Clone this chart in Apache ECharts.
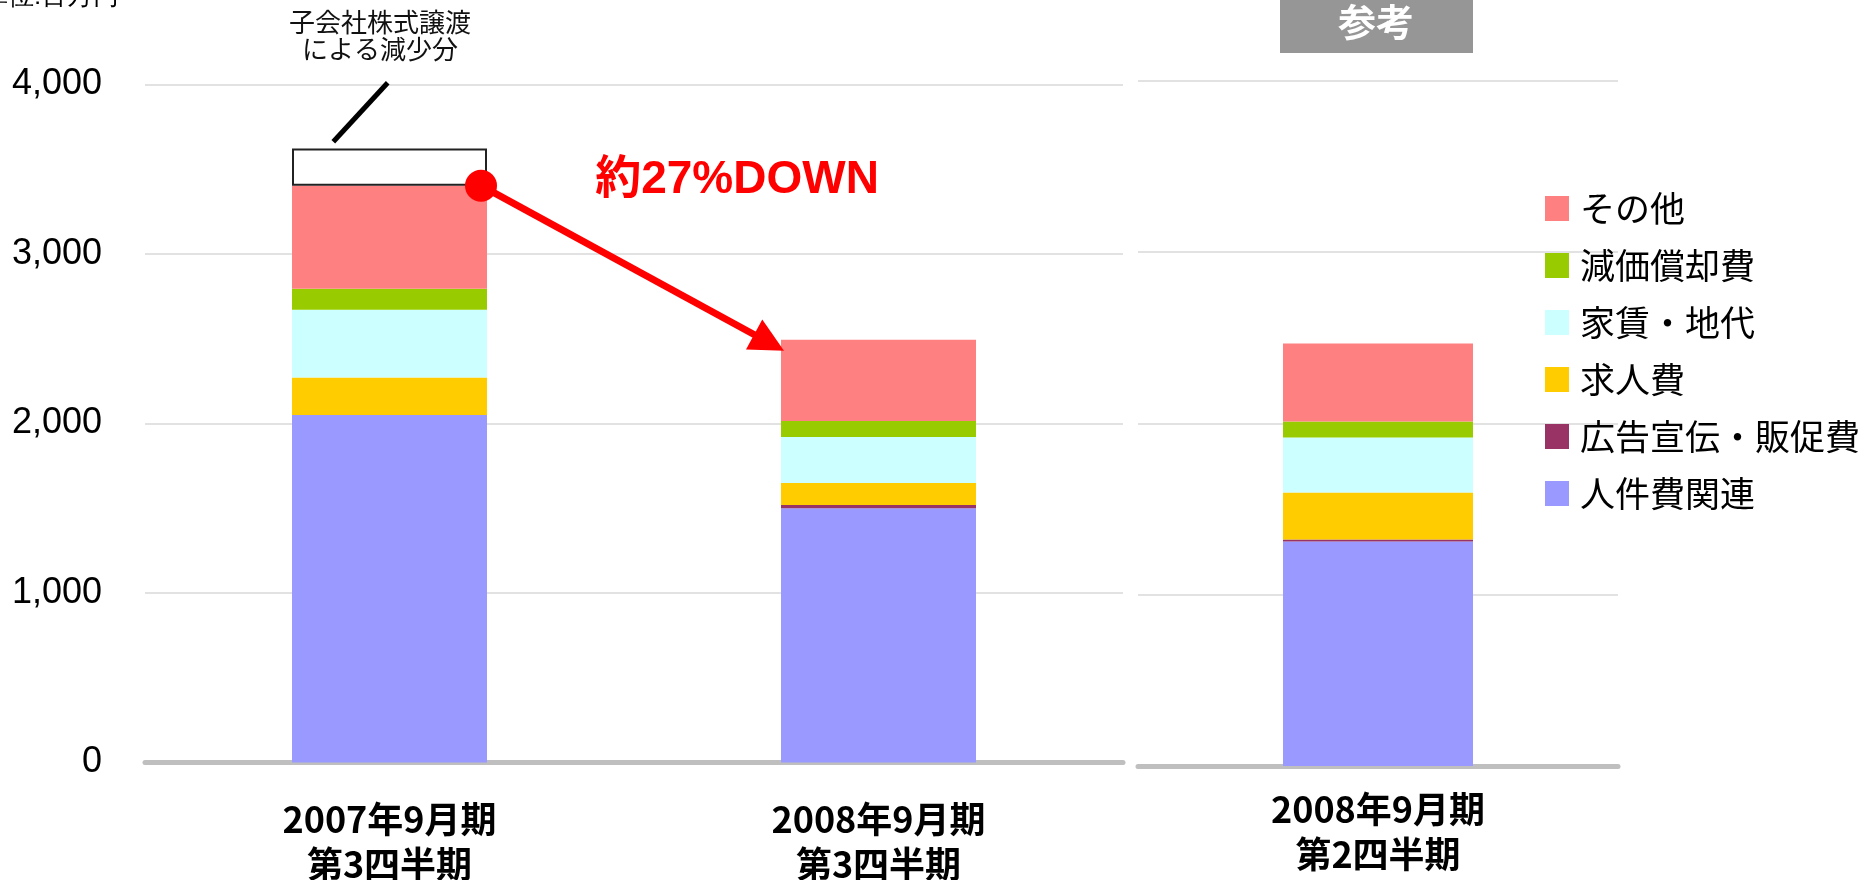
<!DOCTYPE html>
<html>
<head>
<meta charset="utf-8">
<title>販管費の推移</title>
<script src="https://cdn.jsdelivr.net/npm/echarts@6/dist/echarts.min.js"></script>
<style>
html, body { margin: 0; padding: 0; background: #fff; }
#main { width: 1863px; height: 880px; }
</style>
</head>
<body>
<div id="main"></div>
<script>
// 販管費の内訳 (単位:百万円)
var periods = ['2007年9月期\n第3四半期', '2008年9月期\n第3四半期', '2008年9月期\n第2四半期'];
var yTicks = [0, 1000, 2000, 3000, 4000];

var jinkenhi = [2050, 1500, 1310];   // 人件費関連
var koukoku = [0, 18, 12];           // 広告宣伝・販促費
var kyujin = [220, 130, 275];        // 求人費
var yachin = [400, 272, 321];        // 家賃・地代
var genka = [124, 94, 93];           // 減価償却費
var sonota = [608, 479, 455];        // その他
var joto = [219];                    // 子会社株式譲渡による減少分 (2007年9月期のみ)

var names = ['人件費関連', '広告宣伝・販促費', '求人費', '家賃・地代', '減価償却費', 'その他'];
var values = [jinkenhi, koukoku, kyujin, yachin, genka, sonota];
var colors = ['#9999ff', '#993366', '#ffcc00', '#ccffff', '#99cc00', '#ff8080'];

var chart = echarts.init(document.getElementById('main'));

var gray = '#bfbfbf';
var jp = "'Noto Sans CJK JP', sans-serif";
var latin = "'Liberation Sans', 'Noto Sans CJK JP', sans-serif";

function total(idx) {
    return values.reduce(function (sum, arr) { return sum + arr[idx]; }, 0);
}

function mainAxis(grid, data, margin) {
    return {
        gridIndex: grid,
        type: 'category',
        position: 'bottom',
        offset: 3,
        data: data,
        axisLine: { lineStyle: { color: gray, width: 5, cap: 'round' } },
        axisTick: { inside: true, length: 10, lineStyle: { color: gray, width: 4, cap: 'round' } },
        axisLabel: {
            margin: margin,
            fontSize: 36,
            fontWeight: 'bold',
            color: '#000',
            lineHeight: 45,
            fontFamily: jp
        },
        splitLine: { show: false }
    };
}

// 棒の中央の小さい目盛り
function centerTicks(grid, data) {
    return {
        gridIndex: grid,
        type: 'category',
        position: 'bottom',
        offset: 3,
        data: data,
        axisLine: { show: false },
        axisTick: { inside: true, alignWithLabel: true, length: 7, lineStyle: { color: gray, width: 3, cap: 'round' } },
        axisLabel: { show: false },
        splitLine: { show: false }
    };
}

function valueAxis(grid, showLabel) {
    return {
        gridIndex: grid,
        type: 'value',
        min: yTicks[0],
        max: yTicks[yTicks.length - 1],
        interval: yTicks[1] - yTicks[0],
        axisLine: { show: false },
        axisTick: { show: false },
        axisLabel: {
            show: showLabel,
            margin: 43,
            fontSize: 36,
            color: '#000',
            fontFamily: latin,
            formatter: function (v) { return v.toLocaleString('en-US'); }
        },
        splitLine: { lineStyle: { color: '#d9d9d9', width: 1.5 } }
    };
}

var series = [];
names.forEach(function (name, i) {
    series.push({
        name: name, type: 'bar', stack: 'main',
        xAxisIndex: 0, yAxisIndex: 0, barWidth: 195,
        itemStyle: { color: colors[i] },
        data: values[i].slice(0, 2)
    });
    series.push({
        name: name, type: 'bar', stack: 'ref',
        xAxisIndex: 2, yAxisIndex: 1, barWidth: 190,
        itemStyle: { color: colors[i] },
        data: values[i].slice(2)
    });
});
series.push({
    name: '子会社株式譲渡による減少分', type: 'bar', stack: 'main',
    xAxisIndex: 0, yAxisIndex: 0, barWidth: 195,
    itemStyle: { color: '#fff', borderColor: '#222', borderWidth: 2 },
    data: [joto[0], '-']
});

var option = {
    animation: false,
    backgroundColor: '#fff',
    grid: [
        { left: 145, width: 978, top: 84.3, height: 678.2, outerBoundsMode: 'none' },
        { left: 1138, width: 480, top: 80.8, height: 685.2, outerBoundsMode: 'none' }
    ],
    legend: {
        orient: 'vertical',
        left: 1540,
        top: 186,
        itemWidth: 24,
        itemHeight: 25,
        itemGap: 22,
        icon: 'rect',
        selectedMode: false,
        data: names.slice().reverse(),
        textStyle: { fontSize: 35, color: '#000', fontFamily: jp, lineHeight: 25, padding: [0, 0, 0, 6] }
    },
    xAxis: [
        mainAxis(0, periods.slice(0, 2), 31),
        centerTicks(0, periods.slice(0, 2)),
        mainAxis(1, periods.slice(2), 18),
        centerTicks(1, periods.slice(2))
    ],
    yAxis: [valueAxis(0, true), valueAxis(1, false)],
    series: series
};

chart.setOption(option);

// 矢印・注記
var bw = 195;
var s0 = chart.convertToPixel({ gridIndex: 0 }, [0, total(0)]);
var e0 = chart.convertToPixel({ gridIndex: 0 }, [1, total(1)]);
var start = [s0[0] + bw / 2 - 6, s0[1]];
var tip = [e0[0] - bw / 2 + 3, e0[1] + 11];
var dx = tip[0] - start[0], dy = tip[1] - start[1];
var len = Math.sqrt(dx * dx + dy * dy);
var ux = dx / len, uy = dy / len;
var headLen = 34, headHalf = 17;
var base = [tip[0] - ux * headLen, tip[1] - uy * headLen];

chart.setOption({
    graphic: [
        {
            type: 'text', left: -18, top: -16, z: 100,
            style: { text: '単位:百万円', fontSize: 26, fill: '#000', font: '26px ' + jp }
        },
        {
            type: 'text', x: 380, y: 36, z: 100,
            style: {
                text: '子会社株式譲渡\nによる減少分', fontSize: 26, lineHeight: 27,
                fontFamily: jp, fill: '#111', align: 'center', verticalAlign: 'middle'
            }
        },
        {
            type: 'line', z: 100,
            shape: { x1: 387.7, y1: 82.7, x2: 333.3, y2: 141.7 },
            style: { stroke: '#000', lineWidth: 5 }
        },
        {
            type: 'line', z: 100,
            shape: { x1: start[0], y1: start[1], x2: base[0] + ux * 4, y2: base[1] + uy * 4 },
            style: { stroke: '#ff0000', lineWidth: 7 }
        },
        {
            type: 'polygon', z: 100,
            shape: {
                points: [
                    tip,
                    [base[0] - uy * headHalf, base[1] + ux * headHalf],
                    [base[0] + uy * headHalf, base[1] - ux * headHalf]
                ]
            },
            style: { fill: '#ff0000' }
        },
        {
            type: 'circle', z: 100,
            shape: { cx: start[0], cy: start[1], r: 16 },
            style: { fill: '#ff0000' }
        },
        {
            type: 'text', x: 737, y: 180, z: 100,
            style: {
                text: '約27%DOWN', fontSize: 46, fontWeight: 'bold', fontFamily: latin,
                fill: '#ff0000', align: 'center', verticalAlign: 'middle'
            }
        },
        {
            type: 'rect', z: 100,
            shape: { x: 1280, y: 0, width: 193, height: 53 },
            style: { fill: '#969696' }
        },
        {
            type: 'text', x: 1376, y: 22, z: 101,
            style: {
                text: '参考', fontSize: 38, fontWeight: 'bold', fontFamily: jp,
                fill: '#fff', align: 'center', verticalAlign: 'middle'
            }
        }
    ]
});
</script>
</body>
</html>
